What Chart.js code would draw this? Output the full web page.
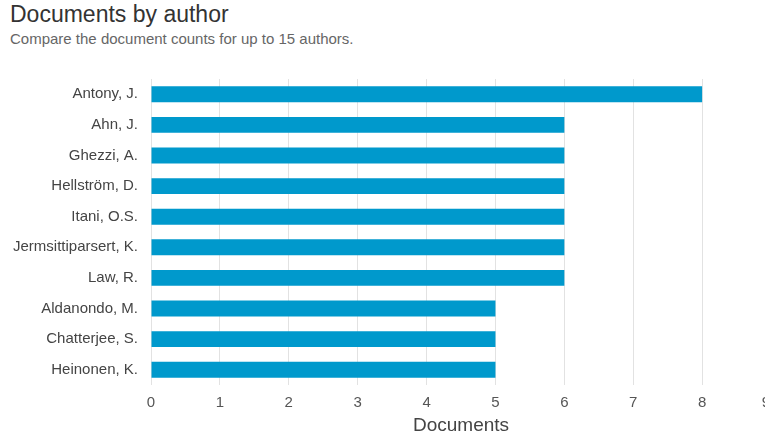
<!DOCTYPE html>
<html><head><meta charset="utf-8">
<script src="https://cdn.jsdelivr.net/npm/chart.js@4.4.0/dist/chart.umd.min.js"></script>
<style>
html,body{margin:0;padding:0;background:#fff;overflow:hidden;width:765px;height:434px;}
#t{position:absolute;left:10px;top:1px;font:23px "Liberation Sans",Arial,sans-serif;color:#333;white-space:nowrap;}
#s{position:absolute;left:10px;top:30px;font:15px "Liberation Sans",Arial,sans-serif;color:#666;white-space:nowrap;}
#wrap{position:absolute;left:0;top:60px;width:786px;height:377px;}
</style></head><body>
<div id="t">Documents by author</div>
<div id="s">Compare the document counts for up to 15 authors.</div>
<div id="wrap"><canvas id="c"></canvas></div>
<script>
const authors = ["Antony, J.","Ahn, J.","Ghezzi, A.","Hellström, D.","Itani, O.S.","Jermsittiparsert, K.","Law, R.","Aldanondo, M.","Chatterjee, S.","Heinonen, K."];
const documents = [8,6,6,6,6,6,6,5,5,5];
const xTicks = [0,1,2,3,4,5,6,7,8,9];
const X_MAX = 9;
const CLIP_RIGHT = 770; // original chart's right edge; last label justified inside it

const tickFont = { family: 'Liberation Sans', size: 15 };
const X_TICK_PAD = 9;
const justifyLast = {
  id: 'justifyLast',
  afterDraw(chart) {
    const sc = chart.scales.x;
    const f = Chart.helpers.toFont(tickFont);
    const ctx = chart.ctx;
    ctx.save();
    ctx.font = f.string;
    ctx.fillStyle = '#555';
    ctx.textAlign = 'center';
    ctx.textBaseline = 'middle';
    const text = String(X_MAX);
    const w = ctx.measureText(text).width;
    const px = Math.min(sc.getPixelForValue(X_MAX), CLIP_RIGHT - w / 2);
    ctx.fillText(text, px, sc.top + X_TICK_PAD + f.lineHeight / 2);
    ctx.restore();
  }
};

new Chart(document.getElementById('c'), {
  type: 'bar',
  data: { labels: authors, datasets: [{ data: documents, backgroundColor: '#0099cc', borderWidth: 0, barPercentage: 0.52, categoryPercentage: 1 }] },
  options: {
    indexAxis: 'y',
    responsive: true, maintainAspectRatio: false, animation: false,
    layout: { padding: { top: 19, right: 15, left: 0, bottom: 0 } },
    plugins: { legend: { display: false }, tooltip: { enabled: false } },
    scales: {
      x: {
        min: 0, max: X_MAX,
        afterBuildTicks: s => { s.ticks = xTicks.map(v => ({value: v})); },
        afterFit: s => { s.height = 52; },
        grid: { color: '#e2e2e2', drawTicks: false },
        border: { display: false },
        ticks: { color: '#555', font: tickFont, padding: X_TICK_PAD, maxRotation: 0, autoSkip: false,
                 callback: v => (v === X_MAX ? '' : String(v)) },
        title: { display: true, text: 'Documents', color: '#444', font: { family: 'Liberation Sans', size: 19 }, padding: { top: 0, bottom: 0 } }
      },
      y: {
        afterFit: s => { s.width = 151; s.paddingTop = 0; s.paddingBottom = 0; },
        grid: { display: false, drawTicks: false },
        border: { display: false },
        ticks: { color: '#444', font: { family: 'Liberation Sans', size: 15 }, padding: 13 }
      }
    }
  },
  plugins: [justifyLast]
});
</script>
</body></html>
